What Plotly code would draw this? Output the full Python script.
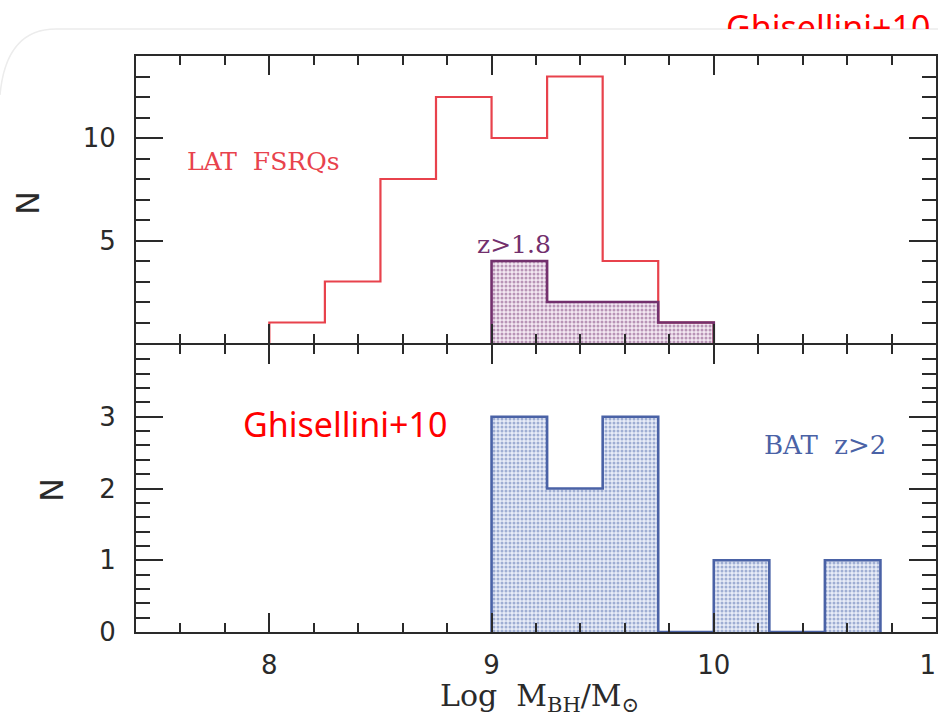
import plotly.graph_objects as go

# ---------------- data ----------------
bin_width = 0.25
lat_lo = [8.0, 8.25, 8.5, 8.75, 9.0, 9.25, 9.5, 9.75]
lat_counts = [1, 3, 8, 12, 10, 13, 4, 1]

z18_lo = [9.0, 9.25, 9.5, 9.75]
z18_counts = [4, 2, 2, 1]

bat_lo = [9.0, 9.25, 9.5, 9.75, 10.0, 10.25, 10.5]
bat_counts = [3, 2, 3, 0, 1, 0, 1]

x_tickvals = [8, 9, 10, 11]
x_ticktext = ["8", "9", "10", "11"]
top_y_tickvals = [5, 10]
bot_y_tickvals = [0, 1, 2, 3]

RED = "#e8424c"
PURPLE = "#73306d"
BLUE = "#4a62a6"
AX = "#2a2a2a"


def step_xy(lo, counts, w):
    xs = [lo[0]] + list(lo) + [lo[-1] + w]
    ys = [0] + list(counts) + [0]
    return xs, ys


fig = go.Figure()

# ---- top panel ----
rx, ry = step_xy(lat_lo, lat_counts, bin_width)
fig.add_trace(go.Scatter(x=rx, y=ry, mode="lines", line=dict(shape="hv", color=RED, width=2.2),
                         xaxis="x2", yaxis="y2", hoverinfo="skip", showlegend=False))
fig.add_trace(go.Bar(x=z18_lo, y=z18_counts, width=bin_width, offset=0,
                     marker=dict(color="#efe2ee", line=dict(width=0),
                                 pattern=dict(shape=".", fgcolor="#7d3f79", bgcolor="#f3e8f2",
                                              size=4, solidity=0.45)),
                     xaxis="x2", yaxis="y2", showlegend=False))
px_, py_ = step_xy(z18_lo, z18_counts, bin_width)
fig.add_trace(go.Scatter(x=px_, y=py_, mode="lines", line=dict(shape="hv", color=PURPLE, width=2.6),
                         xaxis="x2", yaxis="y2", hoverinfo="skip", showlegend=False))

# ---- bottom panel ----
fig.add_trace(go.Bar(x=bat_lo, y=bat_counts, width=bin_width, offset=0,
                     marker=dict(color="#e4e9f5", line=dict(width=0),
                                 pattern=dict(shape=".", fgcolor="#5670b0", bgcolor="#e8ecf7",
                                              size=4, solidity=0.45)),
                     xaxis="x", yaxis="y", showlegend=False))
bx, by = step_xy(bat_lo, bat_counts, bin_width)
fig.add_trace(go.Scatter(x=bx, y=by, mode="lines", line=dict(shape="hv", color=BLUE, width=2.6),
                         xaxis="x", yaxis="y", hoverinfo="skip", showlegend=False))

# ---- clipped top-right label ----
fig.add_trace(go.Scatter(x=[0.11], y=[-0.1], mode="text", text=["Ghisellini+10"],
                         textposition="middle right", cliponaxis=True,
                         textfont=dict(family="Noto Sans", size=34, color="#ff0000"),
                         xaxis="x3", yaxis="y3", hoverinfo="skip", showlegend=False))

tickfont = dict(family="DejaVu Sans", size=26, color=AX)

common_x = dict(range=[7.4, 11.0], showline=True, linecolor=AX, linewidth=2, mirror="ticks",
                ticks="inside", ticklen=19, tickwidth=2, tickcolor=AX, showgrid=False, zeroline=False,
                tickmode="array", tickvals=x_tickvals, ticktext=x_ticktext, layer="above traces",
                automargin=False,
                minor=dict(tickmode="linear", tick0=8, dtick=0.2, ticks="inside", ticklen=9,
                           tickwidth=2, tickcolor=AX, showgrid=False))

H = 632.0
bot_top = (H - 345) / H
top_bot = (H - 343) / H
top_top = (H - 56) / H

fig.update_layout(
    width=938, height=718, autosize=False,
    margin=dict(l=136, r=2, t=0, b=86, autoexpand=False),
    paper_bgcolor="white", plot_bgcolor="rgba(0,0,0,0)",
    bargap=0,
    xaxis=dict(**common_x, anchor="y", domain=[0, 1], showticklabels=True, tickfont=tickfont,
               ticklabelstandoff=9, ticklabeloverflow="allow"),
    xaxis2=dict(**common_x, anchor="y2", domain=[0, 1], matches="x", showticklabels=False),
    yaxis=dict(range=[0, 4], domain=[0, bot_top], anchor="x", showline=True, linecolor=AX, linewidth=2,
               mirror="ticks", ticks="inside", ticklen=27, tickwidth=2, tickcolor=AX, layer="above traces",
               tickmode="array", tickvals=bot_y_tickvals, tickfont=tickfont, ticklabelstandoff=13,
               showgrid=False, zeroline=False, automargin=False,
               minor=dict(tickmode="linear", tick0=0, dtick=0.2, ticks="inside", ticklen=14,
                          tickwidth=2, tickcolor=AX, showgrid=False)),
    yaxis2=dict(range=[0, 14], domain=[top_bot, top_top], anchor="x2", showline=True, linecolor=AX,
                linewidth=2, mirror="ticks", ticks="inside", ticklen=27, tickwidth=2, tickcolor=AX,
                layer="above traces", automargin=False,
                tickmode="array", tickvals=top_y_tickvals, tickfont=tickfont, ticklabelstandoff=13,
                showgrid=False, zeroline=False,
                minor=dict(tickmode="linear", tick0=0, dtick=1, ticks="inside", ticklen=14,
                           tickwidth=2, tickcolor=AX, showgrid=False)),
    xaxis3=dict(range=[0, 1], domain=[(700 - 136) / 800, 1], anchor="y3", visible=False,
                fixedrange=True, automargin=False),
    yaxis3=dict(range=[0, 1], domain=[(H - 29) / H, 1], anchor="x3", visible=False,
                fixedrange=True, automargin=False),
)

ann = []
ann.append(dict(text="LAT  FSRQs", x=7.97, y=8.85, xref="x2", yref="y2", showarrow=False,
                font=dict(family="DejaVu Serif", size=25, color=RED)))
ann.append(dict(text="z>1.8", x=9.1, y=4.82, xref="x2", yref="y2", showarrow=False,
                font=dict(family="DejaVu Serif", size=25, color=PURPLE)))
ann.append(dict(text="BAT  z>2", x=10.5, y=2.6, xref="x", yref="y", showarrow=False,
                font=dict(family="DejaVu Serif", size=26, color=BLUE)))
ann.append(dict(text="Ghisellini+10", x=8.34, y=2.9, xref="x", yref="y", showarrow=False,
                font=dict(family="Noto Sans", size=34, color="#ff0000")))
ann.append(dict(text="N", x=(28 - 136) / 800, y=(H - 203) / H, xref="paper", yref="paper",
                xanchor="center", yanchor="middle",
                showarrow=False, textangle=-90, font=dict(family="DejaVu Sans", size=32, color=AX)))
ann.append(dict(text="N", x=(52 - 136) / 800, y=(H - 490) / H, xref="paper", yref="paper",
                xanchor="center", yanchor="middle",
                showarrow=False, textangle=-90, font=dict(family="DejaVu Sans", size=32, color=AX)))
ann.append(dict(text="Log  M<sub>BH</sub>/M<sub>⊙</sub>", x=(539 - 136) / 800, y=(H - 697) / H,
                xref="paper", yref="paper", showarrow=False, xanchor="center", yanchor="middle",
                font=dict(family="DejaVu Serif", size=30, color=AX)))
fig.update_layout(annotations=ann)

# faint slide-frame line
fig.add_shape(type="path", xref="paper", yref="paper",
              path=f"M {-136/800} {(H-95)/H} Q {-130/800} {(H-29)/H} {-80/800} {(H-29)/H} L {802/800} {(H-29)/H}",
              line=dict(color="#ececec", width=1.5), layer="below")

fig.write_html(
    "out.html",
    config={"responsive": False, "displayModeBar": False},
    post_script="document.body.style.margin='0px';document.body.style.overflow='hidden';",
)
